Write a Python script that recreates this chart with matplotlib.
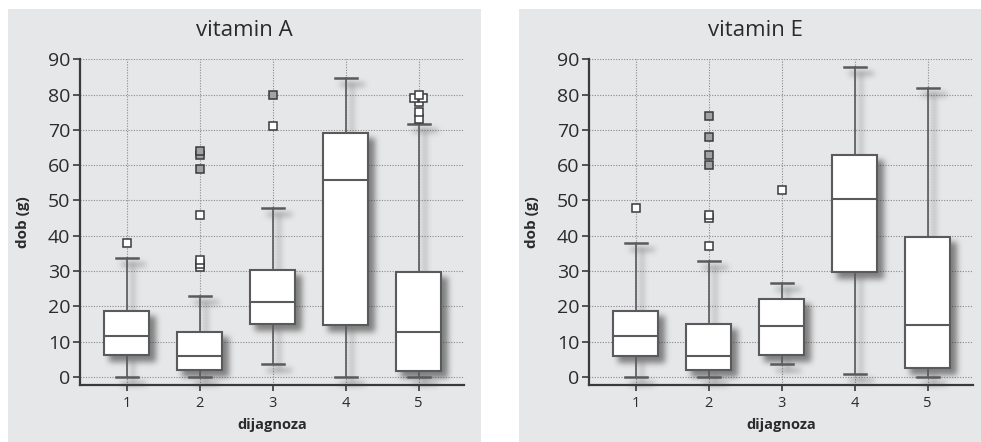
import numpy as np
import matplotlib
matplotlib.use("Agg")
import matplotlib.pyplot as plt
from matplotlib.patches import Rectangle
from collections import Counter

# box statistics per dijagnoza group (1..5)
groups = [1, 2, 3, 4, 5]

A_med = [11.7, 5.9, 21.3, 55.9, 12.8]
A_q1 = [6.2, 1.9, 14.9, 14.7, 1.8]
A_q3 = [18.7, 12.8, 30.3, 69.2, 29.7]
A_lo = [0, 0, 3.7, 0, 0]
A_hi = [33.7, 22.9, 47.8, 84.7, 71.8]
A_out = [[38], [31, 32, 33, 46], [71], [], [73, 75, 78, 79, 79, 80]]
A_ext = [[], [59, 63, 64], [80], [], []]

E_med = [11.7, 5.9, 14.3, 50.4, 14.8]
E_q1 = [5.9, 1.9, 6.3, 29.7, 2.4]
E_q3 = [18.7, 14.9, 22.2, 62.9, 39.7]
E_lo = [0, 0, 3.7, 0.8, 0]
E_hi = [37.9, 32.9, 26.6, 87.9, 81.8]
E_out = [[48], [37, 45, 46], [53], [], []]
E_ext = [[], [60, 63, 68, 74], [], [], []]

BG = "#e6e7e8"
LINE = "#5a5a5c"
AXC = "#3a3a3c"
TXT = "#2b2b2b"

W, H = 981, 442


def shadow_filter(im, dpi):
    # blurred grey copy of the artist, pushed down and to the right
    off, sigma = 6, 3.0
    r = int(3 * sigma)
    pad = off + r
    a = np.pad(im[..., 3], pad)
    k = np.exp(-0.5 * (np.arange(-r, r + 1) / sigma) ** 2)
    k /= k.sum()
    a = sum(w * np.roll(a, i - r, axis=0) for i, w in enumerate(k))
    a = sum(w * np.roll(a, i - r, axis=1) for i, w in enumerate(k))
    a = np.roll(np.roll(a, off, axis=0), off, axis=1)
    out = np.zeros(a.shape + (4,))
    out[..., :3] = 0.2
    out[..., 3] = np.clip(a, 0, 1) * 0.58
    return out, -pad, -pad


def flier_xy(pos, values):
    # spread repeated values sideways so they stay visible
    xs, ys = [], []
    cnt = Counter(values)
    for v, n in sorted(cnt.items()):
        offs = [0.0] if n == 1 else list(np.linspace(-0.06, 0.06, n))
        for o in offs:
            xs.append(pos + o)
            ys.append(v)
    return xs, ys


def draw_panel(ax, med, q1, q3, lo, hi, out, ext):
    stats = []
    for i in range(len(groups)):
        stats.append(dict(med=med[i], q1=q1[i], q3=q3[i],
                          whislo=lo[i], whishi=hi[i], fliers=[]))

    common = dict(positions=groups, widths=0.62, capwidths=0.3,
                  showfliers=False, patch_artist=True)

    # shadow layer
    sh = ax.bxp(stats, zorder=1.5,
                boxprops=dict(facecolor="k", edgecolor="k", linewidth=1.5),
                whiskerprops=dict(color="k", linewidth=1.3),
                capprops=dict(color="k", linewidth=1.8),
                medianprops=dict(color="k", linewidth=1.5),
                **common)
    for key in ("boxes", "whiskers", "caps"):
        for art in sh[key]:
            art.set_agg_filter(shadow_filter)
    for art in sh["medians"]:
        art.set_visible(False)

    ax.bxp(stats, zorder=3,
           boxprops=dict(facecolor="white", edgecolor=LINE, linewidth=1.5),
           whiskerprops=dict(color=LINE, linewidth=1.2),
           capprops=dict(color=LINE, linewidth=1.8),
           medianprops=dict(color=LINE, linewidth=1.5),
           **common)

    for pos, vals in zip(groups, out):
        xs, ys = flier_xy(pos, vals)
        ax.plot(xs, ys, "s", ms=5.5, mfc="white", mec=AXC, mew=1.1,
                ls="none", zorder=4)
    for pos, vals in zip(groups, ext):
        xs, ys = flier_xy(pos, vals)
        ax.plot(xs, ys, "s", ms=5.5, mfc="#a2a2a2", mec=AXC, mew=1.1,
                ls="none", zorder=4)

    ax.set_xlim(0.36, 5.62)
    ax.set_ylim(-2.3, 90)
    ax.set_facecolor("none")
    ax.set_yticks(range(0, 91, 10))
    ax.set_xticks(groups)
    ax.set_xticklabels([str(g) for g in groups])
    ax.grid(True, color="#8a8a8a", linestyle=(0, (1, 1.4)), linewidth=0.8)
    ax.set_axisbelow(True)
    for s in ("top", "right"):
        ax.spines[s].set_visible(False)
    for s in ("left", "bottom"):
        ax.spines[s].set_color(AXC)
        ax.spines[s].set_linewidth(1.6)
    ax.spines["left"].set_bounds(-2.3, 90)
    ax.tick_params(axis="y", length=5, width=1.2, color=AXC,
                   labelsize=14, labelcolor=TXT, pad=2)
    ax.tick_params(axis="x", length=4, width=1.2, color=AXC,
                   labelsize=10.5, labelcolor=TXT, pad=4)
    for lab in ax.get_yticklabels() + ax.get_xticklabels():
        lab.set_family(["Open Sans", "DejaVu Sans"])


fig = plt.figure(figsize=(W / 100, H / 100), dpi=100)
fig.patch.set_facecolor("white")

lab_font = ["Liberation Sans Narrow", "Open Sans", "DejaVu Sans"]

panels = [
    ("vitamin A", 8, 481, 80, A_med, A_q1, A_q3, A_lo, A_hi, A_out, A_ext),
    ("vitamin E", 519, 991, 589, E_med, E_q1, E_q3, E_lo, E_hi, E_out, E_ext),
]
for title, px0, px1, ax0, med, q1, q3, lo, hi, out, ext in panels:
    fig.patches.append(Rectangle((px0 / W, 0), (px1 - px0) / W, 1 - 9 / H,
                                 transform=fig.transFigure, facecolor=BG,
                                 edgecolor="none", zorder=-10))
    ax = fig.add_axes([ax0 / W, (H - 385) / H, 384 / W, (385 - 59.3) / H])
    draw_panel(ax, med, q1, q3, lo, hi, out, ext)
    cx = (px0 + px1) / 2 / W
    fig.text(cx, 1 - 30 / H, title, ha="center", va="center", fontsize=16,
             color=TXT, family=["Open Sans", "DejaVu Sans"])
    fig.text((ax0 + 192) / W, 1 - 425 / H, "dijagnoza", ha="center",
             va="center", fontsize=10.5, fontweight="bold", color=TXT,
             family=lab_font)
    fig.text((ax0 - 57) / W, (H - 222) / H, "dob (g)", ha="center",
             va="center", rotation=90, fontsize=11, fontweight="bold",
             color=TXT, family=lab_font)

fig.savefig("out.png", dpi=100, facecolor=fig.get_facecolor())
